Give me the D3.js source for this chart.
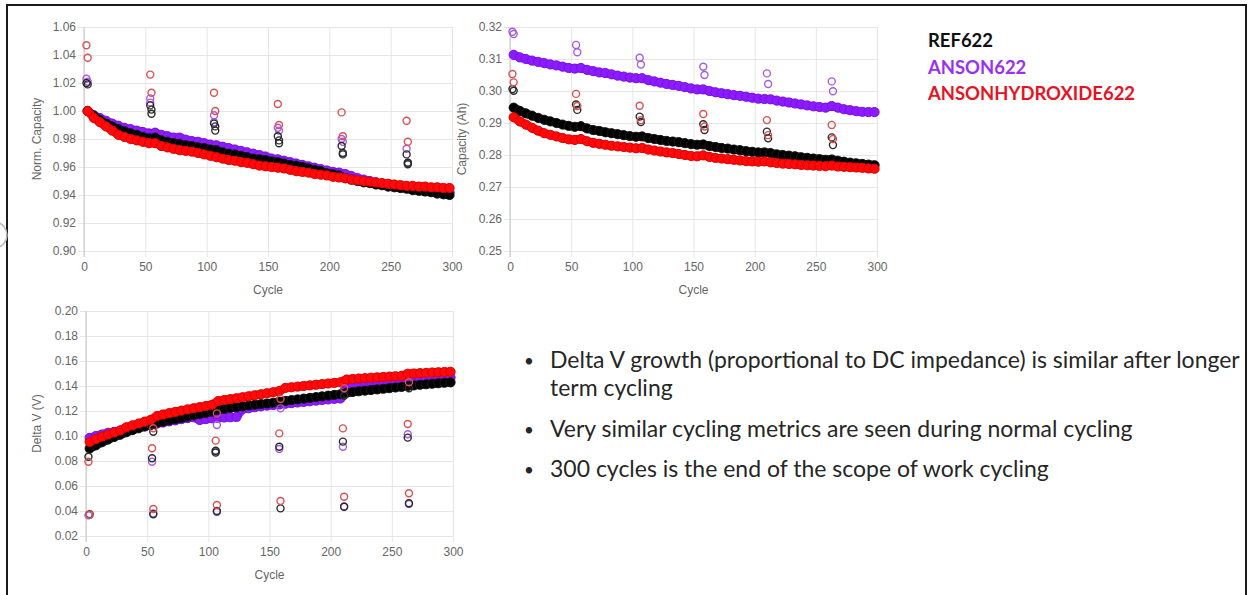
<!DOCTYPE html>
<html>
<head>
<meta charset="utf-8">
<script src="https://cdn.jsdelivr.net/npm/d3@7"></script>
<style>
  html, body { margin: 0; padding: 0; background: #fff; }
  svg { display: block; }
</style>
</head>
<body>
<svg id="chart" width="1248" height="595"></svg>
<script>
// sampled cycle numbers for the dense per-cycle series
const CYCLES = [3, 8, 13, 18, 23, 28, 33, 38, 43, 48, 53, 58, 63, 68, 73, 78, 83, 88, 93, 98,
  103, 108, 113, 118, 123, 128, 133, 138, 143, 148, 153, 158, 163, 168, 173, 178, 183, 188, 193, 198,
  203, 208, 213, 218, 223, 228, 233, 238, 243, 248, 253, 258, 263, 268, 273, 278, 283, 288, 293, 298];

const SERIES = ["REF622", "ANSON622", "ANSONHYDROXIDE622"];

// Norm. Capacity
const NORM_REF = [1.000, 0.9965, 0.9935, 0.991, 0.989, 0.987, 0.9855, 0.984, 0.983, 0.9815,
  0.9805, 0.981, 0.979, 0.978, 0.977, 0.9765, 0.9755, 0.975, 0.974, 0.9735,
  0.9725, 0.972, 0.9705, 0.9695, 0.969, 0.968, 0.967, 0.966, 0.9655, 0.965,
  0.964, 0.9635, 0.9625, 0.9615, 0.961, 0.960, 0.959, 0.958, 0.957, 0.9555,
  0.9548, 0.954, 0.952, 0.951, 0.950, 0.949, 0.9485, 0.9475, 0.947, 0.946,
  0.9455, 0.945, 0.9445, 0.9435, 0.943, 0.9425, 0.942, 0.941, 0.9405, 0.940];
const NORM_ANSON = [1.000, 0.997, 0.995, 0.993, 0.991, 0.9895, 0.988, 0.987, 0.986, 0.985,
  0.984, 0.9845, 0.983, 0.982, 0.981, 0.981, 0.9795, 0.9785, 0.978, 0.977,
  0.976, 0.9755, 0.9745, 0.9735, 0.9725, 0.9715, 0.9705, 0.9695, 0.9685, 0.9675,
  0.966, 0.9655, 0.9645, 0.9635, 0.9625, 0.9615, 0.9605, 0.9595, 0.9585, 0.9575,
  0.9565, 0.956, 0.955, 0.9535, 0.952, 0.951, 0.950, 0.949, 0.948, 0.947,
  0.9465, 0.9455, 0.945, 0.9445, 0.944, 0.9435, 0.943, 0.9425, 0.9422, 0.942];
const NORM_HYD = [1.000, 0.995, 0.992, 0.989, 0.986, 0.983, 0.9815, 0.980, 0.979, 0.978,
  0.977, 0.977, 0.975, 0.974, 0.973, 0.972, 0.9715, 0.971, 0.970, 0.969,
  0.968, 0.967, 0.966, 0.965, 0.9645, 0.9635, 0.963, 0.962, 0.961, 0.9605,
  0.960, 0.9595, 0.959, 0.958, 0.957, 0.9565, 0.956, 0.955, 0.9545, 0.954,
  0.953, 0.9525, 0.952, 0.951, 0.9505, 0.950, 0.9495, 0.949, 0.9485, 0.948,
  0.9475, 0.947, 0.9465, 0.9465, 0.946, 0.946, 0.9455, 0.9455, 0.945, 0.945];

// Capacity (Ah)
const CAP_REF = [0.2948, 0.2938, 0.2930, 0.2923, 0.2916, 0.2910, 0.2905, 0.2900, 0.2895, 0.2891,
  0.2888, 0.2890, 0.2883, 0.2878, 0.2875, 0.2871, 0.2868, 0.2865, 0.2862, 0.2859,
  0.2857, 0.2858, 0.2853, 0.2850, 0.2847, 0.2844, 0.2842, 0.2840, 0.2837, 0.2834,
  0.2832, 0.2833, 0.2828, 0.2825, 0.2822, 0.2820, 0.2817, 0.2815, 0.2812, 0.2810,
  0.2808, 0.2808, 0.2806, 0.2802, 0.2800, 0.2798, 0.2796, 0.2793, 0.2791, 0.2789,
  0.2787, 0.2785, 0.2786, 0.2782, 0.2779, 0.2776, 0.2774, 0.2772, 0.2770, 0.2768];
const CAP_ANSON = [0.3113, 0.3105, 0.3100, 0.3095, 0.3091, 0.3087, 0.3083, 0.3080, 0.3076, 0.3072,
  0.3070, 0.3072, 0.3066, 0.3062, 0.3058, 0.3056, 0.3052, 0.3048, 0.3045, 0.3042,
  0.3040, 0.3040, 0.3034, 0.3030, 0.3026, 0.3022, 0.3019, 0.3016, 0.3012, 0.3008,
  0.3005, 0.3005, 0.3000, 0.2996, 0.2993, 0.2990, 0.2987, 0.2985, 0.2982, 0.2979,
  0.2976, 0.2975, 0.2974, 0.2970, 0.2967, 0.2964, 0.2961, 0.2958, 0.2955, 0.2952,
  0.2950, 0.2948, 0.2953, 0.2948, 0.2943, 0.2940, 0.2937, 0.2935, 0.2934, 0.2934];
const CAP_HYD = [0.2918, 0.2905, 0.2895, 0.2885, 0.2876, 0.2868, 0.2863, 0.2858, 0.2853, 0.2849,
  0.2847, 0.2850, 0.2843, 0.2838, 0.2835, 0.2832, 0.2829, 0.2827, 0.2825, 0.2823,
  0.2821, 0.2822, 0.2817, 0.2814, 0.2811, 0.2808, 0.2806, 0.2803, 0.2800, 0.2797,
  0.2796, 0.2799, 0.2794, 0.2791, 0.2789, 0.2787, 0.2785, 0.2783, 0.2781, 0.2780,
  0.2779, 0.2780, 0.2777, 0.2775, 0.2773, 0.2772, 0.2771, 0.2769, 0.2768, 0.2767,
  0.2766, 0.2765, 0.2767, 0.2764, 0.2763, 0.2762, 0.2761, 0.2760, 0.2758, 0.2757];

// Delta V (V)
const DV_REF = [0.0900, 0.0925, 0.0950, 0.0972, 0.0992, 0.1010, 0.1030, 0.1047, 0.1062, 0.1077,
  0.1090, 0.1105, 0.1115, 0.1125, 0.1135, 0.1145, 0.1155, 0.1165, 0.1175, 0.1185,
  0.1195, 0.1210, 0.1217, 0.1224, 0.1230, 0.1237, 0.1244, 0.1250, 0.1255, 0.1260,
  0.1266, 0.1275, 0.1281, 0.1287, 0.1293, 0.1299, 0.1305, 0.1311, 0.1317, 0.1323,
  0.1329, 0.1334, 0.1346, 0.1352, 0.1358, 0.1363, 0.1368, 0.1373, 0.1378, 0.1383,
  0.1388, 0.1393, 0.1400, 0.1405, 0.1410, 0.1414, 0.1418, 0.1422, 0.1426, 0.1429];
const DV_ANSON = [0.0985, 0.1000, 0.1012, 0.1025, 0.1033, 0.1040, 0.1047, 0.1055, 0.1065, 0.1077,
  0.1088, 0.1100, 0.1108, 0.1117, 0.1125, 0.1135, 0.1143, 0.1150, 0.1128, 0.1135,
  0.1142, 0.1145, 0.1148, 0.1150, 0.1152, 0.1215, 0.1222, 0.1230, 0.1237, 0.1243,
  0.1248, 0.1252, 0.1258, 0.1263, 0.1268, 0.1273, 0.1278, 0.1283, 0.1288, 0.1293,
  0.1297, 0.1300, 0.1415, 0.1420, 0.1425, 0.1429, 0.1433, 0.1437, 0.1441, 0.1444,
  0.1447, 0.1450, 0.1455, 0.1457, 0.1459, 0.1461, 0.1463, 0.1465, 0.1467, 0.1468];
const DV_HYD = [0.0953, 0.0975, 0.0995, 0.1012, 0.1028, 0.1045, 0.1070, 0.1085, 0.1100, 0.1115,
  0.1130, 0.1160, 0.1172, 0.1183, 0.1193, 0.1203, 0.1213, 0.1222, 0.1231, 0.1240,
  0.1250, 0.1280, 0.1288, 0.1295, 0.1302, 0.1310, 0.1318, 0.1326, 0.1334, 0.1342,
  0.1350, 0.1360, 0.1385, 0.1390, 0.1395, 0.1400, 0.1405, 0.1410, 0.1415, 0.1420,
  0.1425, 0.1430, 0.1452, 0.1456, 0.1460, 0.1463, 0.1466, 0.1469, 0.1472, 0.1475,
  0.1478, 0.1481, 0.1498, 0.1500, 0.1503, 0.1505, 0.1508, 0.1510, 0.1512, 0.1514];

// reference performance tests (open circles), [cycle, value]
const RPT_NORM_REF = [[2, 1.020], [3, 1.019], [54, 1.004], [55, 1.001], [55, 0.998], [106, 0.991], [107, 0.989], [107, 0.986],
  [158, 0.982], [159, 0.979], [159, 0.977], [210, 0.975], [211, 0.970], [211, 0.969], [263, 0.969], [264, 0.963], [264, 0.962]];
const RPT_NORM_ANSON = [[2, 1.023], [3, 1.021], [54, 1.009], [54, 1.006], [106, 0.997], [106, 0.992], [158, 0.988], [159, 0.986],
  [210, 0.980], [211, 0.978], [263, 0.973], [264, 0.963]];
const RPT_NORM_HYD = [[2, 1.047], [3, 1.038], [54, 1.026], [55, 1.013], [106, 1.013], [107, 1.000], [158, 1.005], [159, 0.990],
  [210, 0.999], [211, 0.982], [263, 0.993], [264, 0.978]];

const RPT_CAP_REF = [[2, 0.3006], [3, 0.3001], [54, 0.2958], [55, 0.2941], [106, 0.2920], [107, 0.2903], [158, 0.2896], [159, 0.2878],
  [210, 0.2873], [211, 0.2852], [263, 0.2855], [264, 0.2831]];
const RPT_CAP_ANSON = [[2, 0.3185], [3, 0.3178], [54, 0.3144], [55, 0.3121], [106, 0.3104], [107, 0.3083], [158, 0.3076], [159, 0.3050],
  [210, 0.3055], [211, 0.3022], [263, 0.3030], [264, 0.2999]];
const RPT_CAP_HYD = [[2, 0.3053], [3, 0.3027], [54, 0.2991], [55, 0.2953], [106, 0.2954], [107, 0.2909], [158, 0.2928], [159, 0.2889],
  [210, 0.2909], [211, 0.2862], [263, 0.2894], [264, 0.2850]];

const RPT_DV_REF = [[2, 0.0834], [3, 0.0374], [54, 0.0822], [55, 0.1034], [55, 0.0374], [106, 0.0882], [106, 0.0867], [107, 0.0400],
  [158, 0.0914], [159, 0.0421], [210, 0.0955], [211, 0.1322], [211, 0.0434], [263, 0.0987], [264, 0.1382], [264, 0.0462]];
const RPT_DV_ANSON = [[2, 0.0365], [54, 0.0794], [55, 0.0380], [106, 0.0875], [107, 0.1088], [107, 0.0392], [158, 0.0896], [159, 0.1221],
  [210, 0.0914], [211, 0.0436], [263, 0.1014], [264, 0.0455]];
const RPT_DV_HYD = [[2, 0.0794], [3, 0.0370], [54, 0.0902], [55, 0.1062], [55, 0.0416], [106, 0.0963], [107, 0.1181], [107, 0.0448],
  [158, 0.1021], [159, 0.1296], [159, 0.0480], [210, 0.1061], [211, 0.1382], [211, 0.0514], [263, 0.1096], [264, 0.1430], [264, 0.0542]];

const X_TICKS = [0, 50, 100, 150, 200, 250, 300];
const NORM_TICKS = [0.90, 0.92, 0.94, 0.96, 0.98, 1.00, 1.02, 1.04, 1.06];
const CAP_TICKS = [0.25, 0.26, 0.27, 0.28, 0.29, 0.30, 0.31, 0.32];
const DV_TICKS = [0.02, 0.04, 0.06, 0.08, 0.10, 0.12, 0.14, 0.16, 0.18, 0.20];

const BULLETS = [
  ["Delta V growth (proportional to DC impedance) is similar after longer", "term cycling"],
  ["Very similar cycling metrics are seen during normal cycling"],
  ["300 cycles is the end of the scope of work cycling"]
];

// colours: dense fill, dense edge, open circle stroke
const STYLE = {
  REF622: { fill: "#000000", edge: "#1a1a1a", ring: "#2a2a2a" },
  ANSON622: { fill: "#8c1cff", edge: "#7a10e8", ring: "#a45ce6" },
  ANSONHYDROXIDE622: { fill: "#ff0a0a", edge: "#e00000", ring: "#dd5050" }
};
const LEGEND_COLORS = ["#111111", "#9a30f5", "#e8131f"];

const svg = d3.select("#chart");
const FONT = "'Liberation Sans', Arial, Helvetica, sans-serif";

// slide frame
svg.append("rect")
  .attr("x", 7).attr("y", 5).attr("width", 1239).attr("height", 600)
  .attr("fill", "none").attr("stroke", "#1a1a1a").attr("stroke-width", 2);
svg.append("path")
  .attr("d", d3.arc()({ innerRadius: 13, outerRadius: 13, startAngle: 0.2, endAngle: Math.PI - 0.2 }))
  .attr("transform", "translate(-6,235)")
  .attr("fill", "none").attr("stroke", "#b8b8b8").attr("stroke-width", 1.5);

function drawPanel(p) {
  const x = d3.scaleLinear().domain([0, 300]).range([p.x0, p.x1]);
  const y = d3.scaleLinear().domain(p.domain).range([p.y1, p.y0]);
  const g = svg.append("g");

  // grid + axes
  const yAxis = g.append("g")
    .attr("transform", `translate(${p.x0},0)`)
    .call(d3.axisLeft(y).tickValues(p.ticks).tickFormat(d3.format(".2f")).tickSize(0).tickPadding(8));
  yAxis.select(".domain").remove();
  yAxis.selectAll(".tick line")
    .attr("x1", -6).attr("x2", p.x1 - p.x0)
    .attr("stroke", "#e6e6e6");
  const xAxis = g.append("g")
    .attr("transform", `translate(0,${p.y1})`)
    .call(d3.axisBottom(x).tickValues(X_TICKS).tickSize(0).tickPadding(11));
  xAxis.select(".domain").remove();
  xAxis.selectAll(".tick line")
    .attr("y1", 6).attr("y2", p.y0 - p.y1)
    .attr("stroke", "#e6e6e6");
  g.selectAll(".tick text")
    .attr("fill", "#666").style("font-family", FONT).style("font-size", "12px");
  g.append("line")
    .attr("x1", p.x0).attr("x2", p.x0).attr("y1", p.y0).attr("y2", p.y1 + 6)
    .attr("stroke", "#c4c4c4");

  g.append("text")
    .attr("transform", `translate(${p.titleX},${(p.y0 + p.y1) / 2}) rotate(-90)`)
    .attr("text-anchor", "middle").attr("dy", "0.35em")
    .attr("fill", "#666").style("font-family", FONT).style("font-size", "12px")
    .text(p.yTitle);
  g.append("text")
    .attr("x", (p.x0 + p.x1) / 2).attr("y", p.y1 + 43)
    .attr("text-anchor", "middle")
    .attr("fill", "#666").style("font-family", FONT).style("font-size", "12px")
    .text("Cycle");

  // dense per-cycle series (drawing order: purple, black, red)
  const order = [1, 0, 2];
  const line = d3.line().x(d => x(d[0])).y(d => y(d[1]));
  for (const i of order) {
    const st = STYLE[SERIES[i]];
    const pts = CYCLES.map((c, k) => [c, p.dense[i][k]]);
    g.append("path")
      .datum(pts)
      .attr("d", line)
      .attr("fill", "none")
      .attr("stroke", st.fill)
      .attr("stroke-width", 8.5)
      .attr("stroke-linecap", "round")
      .attr("stroke-linejoin", "round");
    g.append("g").selectAll("circle")
      .data(pts)
      .enter()
      .append("circle")
      .attr("cx", d => x(d[0]))
      .attr("cy", d => y(d[1]))
      .attr("r", 4.6)
      .attr("fill", st.fill)
      .attr("stroke", st.edge)
      .attr("stroke-width", 1);
  }

  // open circles
  for (const i of order) {
    const st = STYLE[SERIES[i]];
    g.append("g").selectAll("circle")
      .data(p.rpt[i])
      .enter()
      .append("circle")
      .attr("cx", d => x(d[0]))
      .attr("cy", d => y(d[1]))
      .attr("r", 3.5)
      .attr("fill", "none")
      .attr("stroke", st.ring)
      .attr("stroke-width", 1.4);
  }
}

drawPanel({
  x0: 84, x1: 452, y0: 27, y1: 251, titleX: 37,
  domain: [0.90, 1.06], ticks: NORM_TICKS, yTitle: "Norm. Capacity",
  dense: [NORM_REF, NORM_ANSON, NORM_HYD],
  rpt: [RPT_NORM_REF, RPT_NORM_ANSON, RPT_NORM_HYD]
});
drawPanel({
  x0: 510, x1: 877, y0: 27, y1: 251, titleX: 462,
  domain: [0.25, 0.32], ticks: CAP_TICKS, yTitle: "Capacity (Ah)",
  dense: [CAP_REF, CAP_ANSON, CAP_HYD],
  rpt: [RPT_CAP_REF, RPT_CAP_ANSON, RPT_CAP_HYD]
});
drawPanel({
  x0: 86, x1: 453, y0: 311, y1: 536, titleX: 37,
  domain: [0.02, 0.20], ticks: DV_TICKS, yTitle: "Delta V (V)",
  dense: [DV_REF, DV_ANSON, DV_HYD],
  rpt: [RPT_DV_REF, RPT_DV_ANSON, RPT_DV_HYD]
});

// legend text
const SLIDE_FONT = "Lato, 'Open Sans', sans-serif";
const legend = svg.append("g");
const legendTexts = legend.selectAll("text")
  .data(SERIES)
  .enter()
  .append("text")
  .attr("x", 928)
  .attr("y", (d, i) => 47 + i * 26.7)
  .attr("fill", (d, i) => LEGEND_COLORS[i])
  .style("font-family", SLIDE_FONT)
  .style("font-weight", 700)
  .style("font-size", "18px")
  .text(d => d);
const longest = legendTexts.nodes()[2].getComputedTextLength();
legendTexts.style("font-size", (18 * 207 / longest).toFixed(2) + "px");

// bullet text
const notes = svg.append("g");
const lineYs = [[368, 396], [437], [477]];
const noteLines = [];
BULLETS.forEach((b, i) => {
  notes.append("text")
    .attr("x", 524).attr("y", lineYs[i][0] - 1)
    .attr("fill", "#262626")
    .style("font-family", SLIDE_FONT).style("font-size", "17px")
    .text("\u2022");
  b.forEach((t, j) => {
    noteLines.push(notes.append("text")
      .attr("x", 550).attr("y", lineYs[i][j])
      .attr("fill", "#262626")
      .style("font-family", SLIDE_FONT).style("font-size", "22px")
      .text(t));
  });
});
const w0 = noteLines[0].node().getComputedTextLength();
const fs = 22 * 690 / w0;
noteLines.forEach(t => t.style("font-size", fs.toFixed(2) + "px"));
</script>
</body>
</html>
